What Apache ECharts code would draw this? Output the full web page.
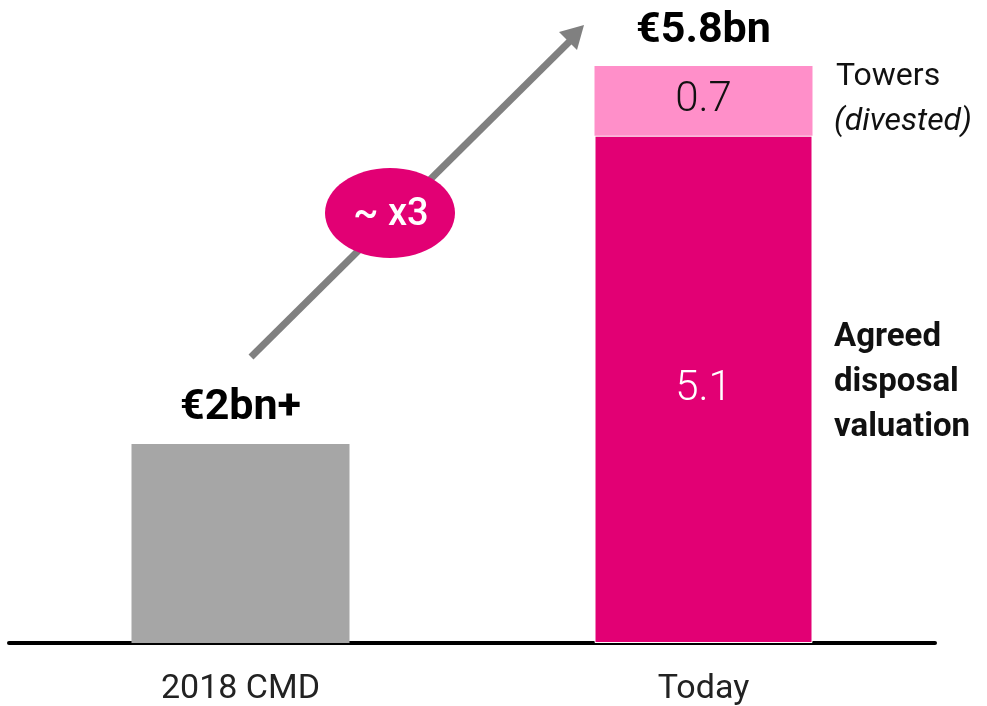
<!DOCTYPE html>
<html>
<head>
<meta charset="utf-8">
<script src="https://cdn.jsdelivr.net/npm/echarts@6/dist/echarts.min.js"></script>
<style>
  html, body { margin: 0; padding: 0; background: #fff; }
  #chart { width: 987px; height: 706px; }
</style>
</head>
<body>
<div id="chart"></div>
<script>
// values in € bn
const categories = ['2018 CMD', 'Today'];
const cmdValues = [2, '-'];
const agreedValues = ['-', 5.1];
const towerValues = ['-', 0.7];
const totalLabels = ['€2bn+', '€5.8bn'];

const FONT = 'Roboto, "Noto Sans", sans-serif';
const chart = echarts.init(document.getElementById('chart'));

const option = {
    backgroundColor: '#ffffff',
    animation: false,
    grid: { left: 9, right: 52, top: 66, bottom: 63 },
    xAxis: {
        type: 'category',
        data: categories,
        axisLine: { lineStyle: { color: '#000', width: 4 } },
        axisTick: { show: false },
        axisLabel: { color: '#222', fontSize: 34, fontFamily: FONT, margin: 29 }
    },
    yAxis: {
        type: 'value',
        min: 0,
        max: 5.8,
        show: false,
        splitLine: { show: false }
    },
    series: [
        {
            type: 'bar',
            stack: 'v',
            barWidth: 218,
            data: cmdValues,
            itemStyle: { color: '#a6a6a6' },
            label: {
                show: true,
                position: 'top',
                distance: 14,
                formatter: p => totalLabels[p.dataIndex],
                color: '#000',
                fontSize: 43,
                fontWeight: 'bold',
                fontFamily: FONT
            }
        },
        {
            type: 'bar',
            stack: 'v',
            barWidth: 218,
            data: agreedValues,
            itemStyle: { color: '#e20074', borderColor: '#fff', borderWidth: 1 },
            label: {
                show: true,
                position: 'inside',
                color: '#fff',
                fontSize: 42,
                fontWeight: 300,
                fontFamily: FONT
            }
        },
        {
            type: 'bar',
            stack: 'v',
            barWidth: 218,
            data: towerValues,
            itemStyle: { color: '#ff8fc9' },
            label: {
                show: true,
                position: 'inside',
                color: '#111',
                fontSize: 42,
                fontWeight: 300,
                fontFamily: FONT
            }
        },
        {
            // total label sitting on top of the stack
            type: 'bar',
            stack: 'v',
            barWidth: 218,
            data: ['-', 0],
            itemStyle: { color: 'transparent' },
            label: {
                show: true,
                position: 'top',
                distance: 13,
                formatter: p => totalLabels[p.dataIndex],
                color: '#000',
                fontSize: 43,
                fontWeight: 'bold',
                fontFamily: FONT
            }
        }
    ],
    graphic: [
        {
            type: 'line',
            shape: { x1: 251, y1: 357, x2: 572, y2: 39 },
            style: { stroke: '#808080', lineWidth: 7 }
        },
        {
            type: 'polygon',
            shape: { points: [[584, 25], [559, 32], [577, 50]] },
            style: { fill: '#808080' }
        },
        {
            type: 'ellipse',
            shape: { cx: 390, cy: 213, rx: 65, ry: 45 },
            style: { fill: '#e20074' }
        },
        {
            type: 'text',
            x: 391, y: 215,
            style: {
                text: '~ x3', fill: '#fff', font: '500 38px ' + FONT,
                align: 'center', verticalAlign: 'middle'
            }
        },
        {
            type: 'text',
            x: 836, y: 77,
            style: {
                text: 'Towers', fill: '#111', font: '32px ' + FONT,
                verticalAlign: 'middle'
            }
        },
        {
            type: 'text',
            x: 834, y: 122,
            style: {
                text: '(divested)', fill: '#111', font: 'italic 32px ' + FONT,
                verticalAlign: 'middle'
            }
        },
        {
            type: 'text',
            x: 834, y: 315,
            style: {
                text: 'Agreed\ndisposal\nvaluation', fill: '#111',
                font: 'bold 33px ' + FONT, lineHeight: 45,
                verticalAlign: 'top'
            }
        }
    ]
};

chart.setOption(option);
</script>
</body>
</html>
